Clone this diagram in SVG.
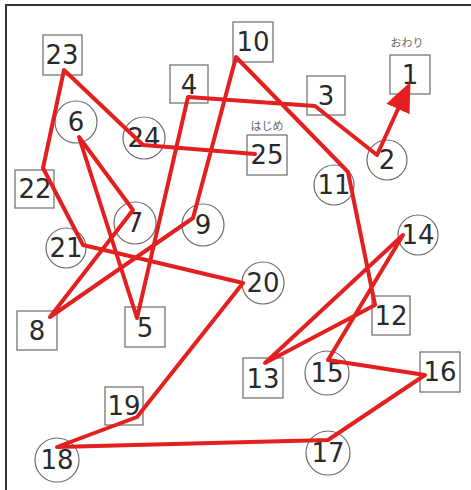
<svg xmlns="http://www.w3.org/2000/svg" width="471" height="490" viewBox="0 0 471 490">
<style>
.bx{fill:#fff;stroke:#6a6a6a;stroke-width:1.2}
.ci{fill:#fff;stroke:#6a6a6a;stroke-width:1.2}
.n{font-family:"DejaVu Sans",sans-serif;font-size:26px;fill:#2a2a2a;text-anchor:middle}
.lb{font-family:"Noto Sans CJK JP",sans-serif;font-size:11px;fill:#666;text-anchor:middle}
.ln{fill:none;stroke:#e3201f;stroke-width:4;stroke-linejoin:round;stroke-linecap:round}
</style>
<defs>
<marker id="ah" markerUnits="userSpaceOnUse" markerWidth="30" markerHeight="30" viewBox="0 -12 26 24" refX="0" refY="0" orient="auto">
<path d="M0,-11 L26,0 L0,11 Z" fill="#e3201f"/>
</marker>
</defs>
<rect x="0" y="0" width="471" height="490" fill="#fff"/>
<path d="M6,490 V5 H471" fill="none" stroke="#333" stroke-width="2"/>
<g id="node1"><rect class="bx" x="390" y="55" width="40" height="39"/><text class="n" x="410" y="84">1</text><text class="lb" x="407" y="47">おわり</text></g>
<g id="node2"><circle class="ci" cx="387" cy="160" r="20"/><text class="n" x="387" y="169">2</text></g>
<g id="node3"><rect class="bx" x="307" y="76" width="38" height="39"/><text class="n" x="326" y="105">3</text></g>
<g id="node4"><rect class="bx" x="170" y="65" width="38" height="38"/><text class="n" x="189" y="94">4</text></g>
<g id="node5"><rect class="bx" x="125" y="307" width="40" height="40"/><text class="n" x="145" y="337">5</text></g>
<g id="node6"><circle class="ci" cx="76" cy="122" r="21"/><text class="n" x="76" y="131">6</text></g>
<g id="node7"><circle class="ci" cx="135" cy="223" r="21"/><text class="n" x="135" y="232">7</text></g>
<g id="node8"><rect class="bx" x="17" y="311" width="40" height="39"/><text class="n" x="37" y="340">8</text></g>
<g id="node9"><circle class="ci" cx="203" cy="225" r="21"/><text class="n" x="203" y="234">9</text></g>
<g id="node10"><rect class="bx" x="233" y="22" width="40" height="40"/><text class="n" x="253" y="51">10</text></g>
<g id="node11"><circle class="ci" cx="334" cy="185" r="20"/><text class="n" x="334" y="194">11</text></g>
<g id="node12"><rect class="bx" x="372" y="296" width="38" height="39"/><text class="n" x="391" y="325">12</text></g>
<g id="node13"><rect class="bx" x="243" y="358" width="40" height="40"/><text class="n" x="263" y="388">13</text></g>
<g id="node14"><circle class="ci" cx="418" cy="235" r="20"/><text class="n" x="418" y="244">14</text></g>
<g id="node15"><circle class="ci" cx="327" cy="373" r="22"/><text class="n" x="327" y="382">15</text></g>
<g id="node16"><rect class="bx" x="420" y="352" width="40" height="40"/><text class="n" x="440" y="381">16</text></g>
<g id="node17"><circle class="ci" cx="328" cy="453" r="22"/><text class="n" x="328" y="462">17</text></g>
<g id="node18"><circle class="ci" cx="57" cy="460" r="22"/><text class="n" x="57" y="469">18</text></g>
<g id="node19"><rect class="bx" x="105" y="387" width="38" height="38"/><text class="n" x="124" y="415">19</text></g>
<g id="node20"><circle class="ci" cx="263" cy="283" r="21"/><text class="n" x="263" y="292">20</text></g>
<g id="node21"><circle class="ci" cx="66" cy="248" r="20"/><text class="n" x="66" y="257">21</text></g>
<g id="node22"><rect class="bx" x="15" y="170" width="39" height="38"/><text class="n" x="35" y="198">22</text></g>
<g id="node23"><rect class="bx" x="43" y="35" width="39" height="40"/><text class="n" x="62" y="64">23</text></g>
<g id="node24"><circle class="ci" cx="144" cy="138" r="21"/><text class="n" x="144" y="147">24</text></g>
<g id="node25"><rect class="bx" x="247" y="135" width="40" height="40"/><text class="n" x="267" y="164">25</text><text class="lb" x="267" y="130">はじめ</text></g>
<g id="connectors">
<polyline class="ln" marker-end="url(#ah)" points="255,154 143,145 64,70 43,168 83,245 243,283 137,417 57,447 328,440 425,375 328,360 403,235 265,363 375,305 348,172 236,57 193,218 50,317 133,210 79,137 137,318 188,97 315,106 377,155 398,109"/>
</g>
</svg>
